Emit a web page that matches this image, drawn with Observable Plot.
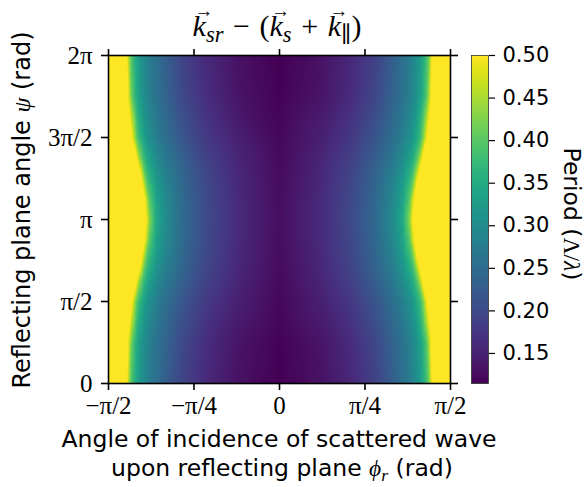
<!DOCTYPE html>
<html><head><meta charset="utf-8">
<script src="https://cdn.jsdelivr.net/npm/d3@7"></script>
<script src="https://cdn.jsdelivr.net/npm/@observablehq/plot@0.6"></script>
<style>
body{margin:0;background:#fff}
#wrap{position:relative;width:586px;height:487px;overflow:hidden;font-family:"DejaVu Sans",sans-serif;color:#000}
#main,#cbar{position:absolute;top:0}
#main{left:0}
#cbar{left:471px}
.lab{position:absolute;white-space:nowrap;font-size:23.5px;line-height:1}
.m{font-family:"Liberation Serif","DejaVu Serif",serif;font-style:italic}
.up{font-style:normal}
.op{font-style:normal;margin:0 0.32em}
sub{font-size:0.75em;vertical-align:-0.28em;line-height:0}
.vec{position:relative;display:inline-block}
.vec::after{content:"\2192";position:absolute;left:0.1em;top:-0.5em;font-size:0.62em;font-style:normal;line-height:1}
</style></head>
<body>
<div id="wrap">
  <div id="main"></div>
  <div id="cbar"></div>
  <div class="lab m" id="title" style="left:277px;top:11px;transform:translateX(-50%);font-size:30px"><span class="vec">k</span><sub>sr</sub><span class="op">−</span><span class="up">(</span><span class="vec">k</span><sub>s</sub><span class="op">+</span><span class="vec">k</span><sub class="up">∥</sub><span class="up">)</span></div>
  <div class="lab" style="left:279px;top:428px;transform:translateX(-50%)">Angle of incidence of scattered wave</div>
  <div class="lab" style="left:282px;top:457px;transform:translateX(-50%)">upon reflecting plane <span class="m">ϕ</span><sub class="m">r</sub> (rad)</div>
  <div class="lab" style="left:22px;top:210px;transform:translate(-50%,-50%) rotate(-90deg);font-size:24px">Reflecting plane angle <span class="m">ψ</span> (rad)</div>
  <div class="lab" style="left:571px;top:214px;transform:translate(-50%,-50%) rotate(90deg)">Period (<span class="m up">Λ</span><span class="m up">/</span><span class="m">λ</span>)</div>
</div>
<script>
// Angle of incidence φr, in units of π (columns of the grid)
const phiPi = [-0.5, -0.46, -0.44, -0.43, -0.42, -0.41, -0.40, -0.39, -0.38, -0.36, -0.33, -0.28, -0.21, -0.12, 0,
               0.12, 0.21, 0.28, 0.33, 0.36, 0.38, 0.39, 0.40, 0.41, 0.42, 0.43, 0.44, 0.46, 0.5];
// Reflecting plane angle ψ, in units of π (rows of the grid)
const psiPi = [0, 0.25, 0.5, 0.625, 0.75, 0.875, 1, 1.125, 1.25, 1.375, 1.5, 1.75, 2];

// Period Λ/λ, one row per ψ
const period_psi_0    = [0.9, 0.68, 0.44, 0.38, 0.35, 0.32, 0.305, 0.29, 0.275, 0.255, 0.228, 0.19, 0.158, 0.132, 0.115, 0.132, 0.158, 0.19, 0.228, 0.255, 0.275, 0.29, 0.305, 0.32, 0.35, 0.38, 0.44, 0.68, 0.9];
const period_psi_q1   = [0.9, 0.72, 0.47, 0.40, 0.36, 0.33, 0.31, 0.295, 0.28, 0.26, 0.235, 0.197, 0.163, 0.135, 0.117, 0.135, 0.163, 0.197, 0.235, 0.26, 0.28, 0.295, 0.31, 0.33, 0.36, 0.40, 0.47, 0.72, 0.9];
const period_psi_q2   = [0.9, 0.8, 0.58, 0.49, 0.42, 0.37, 0.345, 0.32, 0.305, 0.28, 0.252, 0.215, 0.178, 0.148, 0.122, 0.148, 0.178, 0.215, 0.252, 0.28, 0.305, 0.32, 0.345, 0.37, 0.42, 0.49, 0.58, 0.8, 0.9];
const period_psi_q2h  = [0.9, 0.85, 0.68, 0.6, 0.52, 0.44, 0.39, 0.355, 0.33, 0.30, 0.268, 0.228, 0.188, 0.154, 0.124, 0.154, 0.188, 0.228, 0.268, 0.30, 0.33, 0.355, 0.39, 0.44, 0.52, 0.6, 0.68, 0.85, 0.9];
const period_psi_q3   = [0.9, 0.88, 0.75, 0.68, 0.61, 0.55, 0.47, 0.40, 0.365, 0.32, 0.283, 0.238, 0.195, 0.158, 0.126, 0.158, 0.195, 0.238, 0.283, 0.32, 0.365, 0.40, 0.47, 0.55, 0.61, 0.68, 0.75, 0.88, 0.9];
const period_psi_q3h  = [0.9, 0.9, 0.8, 0.74, 0.67, 0.61, 0.55, 0.47, 0.40, 0.335, 0.293, 0.243, 0.199, 0.16, 0.127, 0.16, 0.199, 0.243, 0.293, 0.335, 0.40, 0.47, 0.55, 0.61, 0.67, 0.74, 0.8, 0.9, 0.9];
const period_psi_q4   = [0.9, 0.9, 0.82, 0.77, 0.71, 0.64, 0.57, 0.51, 0.43, 0.345, 0.298, 0.245, 0.2, 0.16, 0.128, 0.16, 0.2, 0.245, 0.298, 0.345, 0.43, 0.51, 0.57, 0.64, 0.71, 0.77, 0.82, 0.9, 0.9];
const period_psi_q4h  = [0.9, 0.9, 0.8, 0.74, 0.67, 0.61, 0.55, 0.47, 0.40, 0.335, 0.293, 0.243, 0.199, 0.16, 0.127, 0.16, 0.199, 0.243, 0.293, 0.335, 0.40, 0.47, 0.55, 0.61, 0.67, 0.74, 0.8, 0.9, 0.9];
const period_psi_q5   = [0.9, 0.88, 0.75, 0.68, 0.61, 0.55, 0.47, 0.40, 0.365, 0.32, 0.283, 0.238, 0.195, 0.158, 0.126, 0.158, 0.195, 0.238, 0.283, 0.32, 0.365, 0.40, 0.47, 0.55, 0.61, 0.68, 0.75, 0.88, 0.9];
const period_psi_q5h  = [0.9, 0.85, 0.68, 0.6, 0.52, 0.44, 0.39, 0.355, 0.33, 0.30, 0.268, 0.228, 0.188, 0.154, 0.124, 0.154, 0.188, 0.228, 0.268, 0.30, 0.33, 0.355, 0.39, 0.44, 0.52, 0.6, 0.68, 0.85, 0.9];
const period_psi_q6   = [0.9, 0.8, 0.58, 0.49, 0.42, 0.37, 0.345, 0.32, 0.305, 0.28, 0.252, 0.215, 0.178, 0.148, 0.122, 0.148, 0.178, 0.215, 0.252, 0.28, 0.305, 0.32, 0.345, 0.37, 0.42, 0.49, 0.58, 0.8, 0.9];
const period_psi_q7   = [0.9, 0.72, 0.47, 0.40, 0.36, 0.33, 0.31, 0.295, 0.28, 0.26, 0.235, 0.197, 0.163, 0.135, 0.117, 0.135, 0.163, 0.197, 0.235, 0.26, 0.28, 0.295, 0.31, 0.33, 0.36, 0.40, 0.47, 0.72, 0.9];
const period_psi_2pi  = [0.9, 0.68, 0.44, 0.38, 0.35, 0.32, 0.305, 0.29, 0.275, 0.255, 0.228, 0.19, 0.158, 0.132, 0.115, 0.132, 0.158, 0.19, 0.228, 0.255, 0.275, 0.29, 0.305, 0.32, 0.35, 0.38, 0.44, 0.68, 0.9];

// Axis ticks
const xTickVals = [-0.5, -0.25, 0, 0.25, 0.5];
const xTickLabels = ["−π/2", "−π/4", "0", "π/4", "π/2"];
const yTickVals = [0, 0.5, 1, 1.5, 2];
const yTickLabels = ["0", "π/2", "π", "3π/2", "2π"];
const cbTicks = [0.15, 0.20, 0.25, 0.30, 0.35, 0.40, 0.45, 0.50];
const colorMin = 0.1147, colorMax = 0.50;

const periodRows = [period_psi_0, period_psi_q1, period_psi_q2, period_psi_q2h, period_psi_q3, period_psi_q3h,
  period_psi_q4, period_psi_q4h, period_psi_q5, period_psi_q5h, period_psi_q6, period_psi_q7, period_psi_2pi];
const grid = psiPi.flatMap((psi, i) => periodRows[i].map((v, j) => ({phi: phiPi[j], psi, v})));

const color = {type: "linear", scheme: "viridis", domain: [colorMin, colorMax], clamp: true};
const serif = "Liberation Serif, DejaVu Serif, serif";
const sw = 1.6;

const main = Plot.plot({
  width: 586, height: 487,
  marginLeft: 108, marginRight: 136, marginTop: 55, marginBottom: 104,
  x: {domain: [-0.5, 0.5], label: null},
  y: {domain: [0, 2], label: null},
  color,
  marks: [
    Plot.raster(grid, {x: "phi", y: "psi", fill: "v", interpolate: "barycentric", x1: -0.5, x2: 0.5, y1: 0, y2: 2}),
    Plot.frame({stroke: "black", strokeWidth: sw}),
    Plot.axisX({anchor: "bottom", ticks: xTickVals, tickFormat: d => xTickLabels[xTickVals.indexOf(d)],
      tickSize: 7, tickPadding: 6, fontSize: 25, fontFamily: serif, strokeWidth: sw, label: null}),
    Plot.axisX({anchor: "top", ticks: xTickVals, tickFormat: () => "", tickSize: 7, strokeWidth: sw, label: null}),
    Plot.axisY({anchor: "left", ticks: yTickVals, tickFormat: d => yTickLabels[yTickVals.indexOf(d)],
      tickSize: 7, tickPadding: 9, fontSize: 25, fontFamily: serif, strokeWidth: sw, label: null}),
    Plot.axisY({anchor: "right", ticks: yTickVals, tickFormat: () => "", tickSize: 7, strokeWidth: sw, label: null})
  ]
});
main.style.color = "black";
document.getElementById("main").appendChild(main);

const cbar = Plot.plot({
  width: 115, height: 487,
  marginLeft: 0, marginRight: 98, marginTop: 55, marginBottom: 104,
  x: {domain: [0, 1], axis: null},
  y: {domain: [colorMin, colorMax], label: null},
  color,
  marks: [
    Plot.raster({fill: (x, y) => y, x1: 0, x2: 1, y1: colorMin, y2: colorMax}),
    Plot.frame({stroke: "#333", strokeWidth: 0.8}),
    Plot.axisY({anchor: "right", ticks: cbTicks, tickFormat: d3.format(".2f"), tickSize: 6, tickPadding: 8,
      fontSize: 21, fontFamily: "DejaVu Sans", strokeWidth: 1.2, label: null})
  ]
});
cbar.style.background = "transparent";
document.getElementById("cbar").appendChild(cbar);
</script>
</body></html>
